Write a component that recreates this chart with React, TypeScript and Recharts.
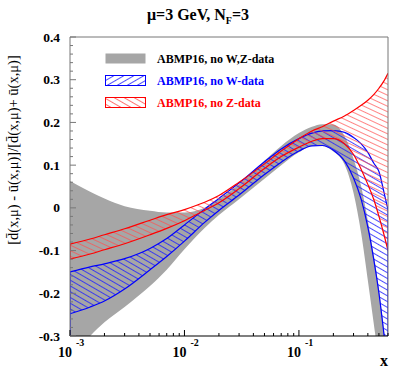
import { ComposedChart, Area, XAxis, YAxis, ReferenceLine } from 'recharts'

// x grid (log scale) and band limits
const xs = [0.001, 0.0015, 0.002, 0.003, 0.005, 0.007, 0.01, 0.015, 0.02, 0.03, 0.05, 0.07, 0.1, 0.13, 0.16, 0.2, 0.25, 0.3, 0.35, 0.4, 0.45, 0.5, 0.55, 0.6]

const grayHi = [0.063, 0.038, 0.022, 0.004, -0.007, -0.011, -0.011, 0.0, 0.02, 0.055, 0.11, 0.145, 0.175, 0.19, 0.196, 0.195, 0.168, 0.115, 0.05, -0.03, -0.11, -0.19, -0.28, -0.37]
const grayLo = [-0.36, -0.3, -0.268, -0.232, -0.183, -0.145, -0.097, -0.047, -0.017, 0.02, 0.068, 0.1, 0.13, 0.145, 0.145, 0.132, 0.102, 0.035, -0.06, -0.17, -0.27, -0.36, -0.45, -0.54]

const blueHi = [-0.15, -0.138, -0.131, -0.119, -0.095, -0.072, -0.04, -0.003, 0.022, 0.058, 0.108, 0.138, 0.162, 0.175, 0.18, 0.181, 0.177, 0.165, 0.15, 0.13, 0.105, 0.085, 0.04, -0.005]
const blueLo = [-0.248, -0.232, -0.218, -0.19, -0.145, -0.114, -0.078, -0.034, -0.006, 0.03, 0.078, 0.107, 0.133, 0.145, 0.146, 0.135, 0.11, 0.07, 0.02, -0.045, -0.12, -0.2, -0.29, -0.38]

const redHi = [-0.085, -0.073, -0.063, -0.049, -0.029, -0.016, -0.004, 0.013, 0.029, 0.06, 0.103, 0.133, 0.162, 0.18, 0.19, 0.203, 0.215, 0.228, 0.24, 0.252, 0.265, 0.28, 0.296, 0.315]
const redLo = [-0.12, -0.108, -0.098, -0.084, -0.063, -0.048, -0.03, -0.006, 0.012, 0.045, 0.092, 0.12, 0.142, 0.156, 0.162, 0.162, 0.15, 0.125, 0.09, 0.055, 0.02, -0.02, -0.06, -0.1]

const xDomain = [0.001, 0.6]
const yDomain = [-0.3, 0.4]
const yMajor = [-0.3, -0.2, -0.1, 0, 0.1, 0.2, 0.3, 0.4]
const yLabels = ['-0.3', '-0.2', '-0.1', '0', '0.1', '0.2', '0.3', '0.4']
const xDecades = [0.001, 0.01, 0.1]
const xMults = [1, 2, 3, 4, 5, 6, 7, 8, 9]

const legendItems = [
  { name: 'ABMP16, no W,Z-data', color: '#000', fill: '#a6a6a6', stroke: 'none' },
  { name: 'ABMP16, no W-data', color: '#0000ff', fill: 'url(#legBlue)', stroke: '#0000ff' },
  { name: 'ABMP16, no Z-data', color: '#ff0000', fill: 'url(#legRed)', stroke: '#ff0000' },
]

const data = xs.map((x, i) => ({
  x,
  gray: [grayLo[i], grayHi[i]],
  blue: [blueLo[i], blueHi[i]],
  red: [redLo[i], redHi[i]],
}))

const yTicks: number[] = []
yMajor.forEach((v, i) => {
  yTicks.push(v)
  if (i < yMajor.length - 1) for (let k = 1; k < 5; k++) yTicks.push(Math.round((v + k * 0.02) * 1000) / 1000)
})
const xTicks = xDecades.flatMap((d) => xMults.map((m) => Math.round(d * m * 1e6) / 1e6)).filter((v) => v <= xDomain[1])

const FONT = '"Liberation Serif", "DejaVu Serif", serif'

function XTick({ x, y, payload }: any) {
  const e = Math.log10(payload.value)
  const major = Math.abs(e - Math.round(e)) < 1e-6
  return (
    <g>
      <line x1={x} x2={x} y1={y} y2={y - (major ? 6 : 3)} stroke="#000" />
      {major && (
        <text x={x + 2} y={y + 21} textAnchor="end" fontFamily={FONT} fontWeight="bold" fontSize={14} fill="#000">10</text>
      )}
      {major && (
        <text x={x + 6} y={y + 10} fontFamily={FONT} fontWeight="bold" fontSize={10} fill="#000">{Math.round(e)}</text>
      )}
    </g>
  )
}

function YTick({ x, y, payload }: any) {
  const idx = yMajor.findIndex((m) => Math.abs(m - payload.value) < 1e-6)
  const major = idx >= 0
  return (
    <g>
      <line x1={x} x2={x + (major ? 6 : 3)} y1={y} y2={y} stroke="#777" />
      {major && (
        <text x={x - 10} y={y + 4.5} textAnchor="end" fontFamily={FONT} fontWeight="bold" fontSize={13.5} fill="#000">{yLabels[idx]}</text>
      )}
    </g>
  )
}

export default function App() {
  const last = xs.length - 1
  return (
    <div style={{ position: 'absolute', left: 0, top: 0, width: 399, height: 374, background: '#fff' }}>
      <ComposedChart width={399} height={374} data={data} margin={{ top: 37, right: 11, left: 0, bottom: 8 }}>
        <defs>
          <pattern id="blueHatch" patternUnits="userSpaceOnUse" width={5} height={5} patternTransform="rotate(30)">
            <line x1={0} y1={2.5} x2={5} y2={2.5} stroke="#2020ff" strokeWidth={0.8} />
          </pattern>
          <pattern id="redHatch" patternUnits="userSpaceOnUse" width={5} height={5} patternTransform="rotate(25)">
            <line x1={0} y1={2.5} x2={5} y2={2.5} stroke="#ff5050" strokeWidth={0.7} />
          </pattern>
        </defs>
        <XAxis
          dataKey="x"
          type="number"
          scale="log"
          domain={xDomain}
          allowDataOverflow
          ticks={xTicks}
          interval={0}
          tick={<XTick />}
          tickLine={false}
          tickSize={0}
          tickMargin={0}
          height={30}
          axisLine={{ stroke: '#000', strokeWidth: 1.2 }}
        />
        <YAxis
          type="number"
          domain={yDomain}
          allowDataOverflow
          ticks={yTicks}
          interval={0}
          tick={<YTick />}
          tickLine={false}
          tickSize={0}
          tickMargin={0}
          width={70}
          axisLine={{ stroke: '#777' }}
        />
        <Area dataKey="gray" type="monotone" fill="#a6a6a6" fillOpacity={1} stroke="none" isAnimationActive={false} />
        <Area dataKey="blue" type="monotone" fill="url(#blueHatch)" fillOpacity={1} stroke="#0000ff" strokeWidth={1.2} isAnimationActive={false} />
        <Area dataKey="red" type="monotone" fill="url(#redHatch)" fillOpacity={1} stroke="#ff0000" strokeWidth={1.2} isAnimationActive={false} />
        <ReferenceLine segment={[{ x: xs[0], y: yDomain[0] }, { x: xs[0], y: blueHi[0] }]} stroke="#0000ff" strokeWidth={1.2} ifOverflow="hidden" />
        <ReferenceLine segment={[{ x: xs[0], y: redLo[0] }, { x: xs[0], y: redHi[0] }]} stroke="#ff0000" strokeWidth={1.2} ifOverflow="hidden" />
        <ReferenceLine segment={[{ x: xs[last], y: yDomain[0] }, { x: xs[last], y: blueHi[last] }]} stroke="#0000ff" strokeWidth={1.2} ifOverflow="hidden" />
        <ReferenceLine y={yDomain[1]} stroke="#777" />
        <ReferenceLine x={xDomain[1]} stroke="#777" />
      </ComposedChart>
      <svg width={399} height={374} style={{ position: 'absolute', left: 0, top: 0, pointerEvents: 'none' }}>
        <defs>
          <pattern id="legBlue" patternUnits="userSpaceOnUse" width={5} height={5} patternTransform="rotate(-30)">
            <line x1={0} y1={2.5} x2={5} y2={2.5} stroke="#2020ff" strokeWidth={0.8} />
          </pattern>
          <pattern id="legRed" patternUnits="userSpaceOnUse" width={5} height={5} patternTransform="rotate(30)">
            <line x1={0} y1={2.5} x2={5} y2={2.5} stroke="#ff5050" strokeWidth={0.8} />
          </pattern>
        </defs>
        <text x={198} y={20} textAnchor="middle" fontFamily={FONT} fontWeight="bold" fontSize={16} fill="#000">
          μ=3 GeV, N<tspan fontSize={10} dy={4}>F</tspan><tspan dy={-4}>=3</tspan>
        </text>
        <text x={0} y={0} transform="translate(18,150) rotate(-90)" textAnchor="middle" fontFamily={FONT} fontSize={14.5} fill="#000">
          [d̄(x,μ) - ū(x,μ)]/[d̄(x,μ)+ ū(x,μ)]
        </text>
        <text x={384} y={366} textAnchor="middle" fontFamily={FONT} fontWeight="bold" fontSize={16} fill="#000">x</text>
        {legendItems.map((it, i) => (
          <g key={it.name}>
            <rect x={105.5} y={53.5 + i * 22} width={40} height={10} fill={it.fill} stroke={it.stroke} />
            <text x={157} y={62.5 + i * 22} fontFamily={FONT} fontWeight="bold" fontSize={12} fill={it.color}>{it.name}</text>
          </g>
        ))}
      </svg>
    </div>
  )
}
